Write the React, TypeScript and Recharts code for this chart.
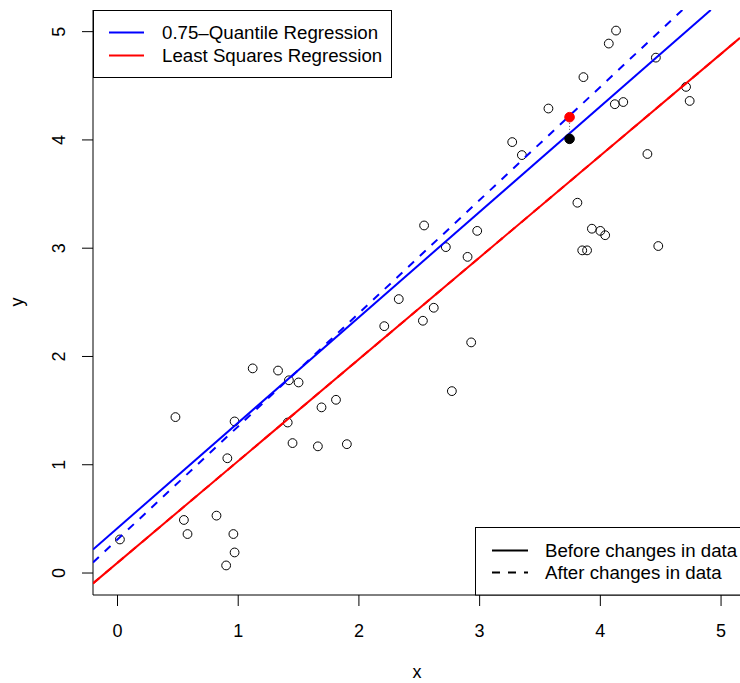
import { ScatterChart, Scatter, XAxis, YAxis } from "recharts";

// observed sample
const xs = [0.02, 0.48, 0.55, 0.58, 0.82, 0.9, 0.91, 0.96, 0.97, 0.97, 1.12, 1.33, 1.42, 1.41, 1.45, 1.5, 1.66, 1.69, 1.81, 1.9, 2.21, 2.33, 2.53, 2.54, 2.62, 2.72, 2.77, 2.9, 2.93, 2.98, 3.27, 3.35, 3.57, 3.81, 3.85, 3.86, 3.89, 3.93, 4.0, 4.04, 4.07, 4.12, 4.13, 4.19, 4.39, 4.46, 4.48, 4.71, 4.74];
const ys = [0.31, 1.44, 0.49, 0.36, 0.53, 0.07, 1.06, 0.36, 1.4, 0.19, 1.89, 1.87, 1.78, 1.39, 1.2, 1.76, 1.17, 1.53, 1.6, 1.19, 2.28, 2.53, 2.33, 3.21, 2.45, 3.01, 1.68, 2.92, 2.13, 3.16, 3.98, 3.86, 4.29, 3.42, 2.98, 4.58, 2.98, 3.18, 3.16, 3.12, 4.89, 4.33, 5.01, 4.35, 3.87, 4.76, 3.02, 4.49, 4.36];

// the one observation that was changed: original and modified value
const originalPoint = [3.745, 4.01];
const changedPoint = [3.745, 4.21];

// fitted lines: [intercept, slope]
const quantileBefore = [0.415, 0.9736];
const quantileAfter = [0.31, 1.045];
const lsBefore = [0.095, 0.94];
const lsAfter = [0.095, 0.94];

const xTicks = [0, 1, 2, 3, 4, 5];
const yTicks = [0, 1, 2, 3, 4, 5];

const XMIN = -0.203;
const XMAX = 5.157;
const YMIN = -0.203;
const YMAX = 5.2;

const FONT = '"Liberation Sans", Arial, Helvetica, sans-serif';
const LEGEND_SIZE = 18.7;

const points = xs.map((x, i) => ({ x, y: ys[i] }));

// endpoints of y = a + b x clipped to the plot window
function segment([a, b]: number[]) {
  let x0 = XMIN;
  let x1 = XMAX;
  if (a + b * x0 < YMIN) x0 = (YMIN - a) / b;
  if (a + b * x1 > YMAX) x1 = (YMAX - a) / b;
  return [
    { x: x0, y: a + b * x0 },
    { x: x1, y: a + b * x1 },
  ];
}

const noShape = () => <g />;

const OpenCircle = (p: any) => (
  <circle cx={p.cx} cy={p.cy} r={4.4} fill="none" stroke="#000" strokeWidth={1} />
);

const dot = (color: string) => (p: any) => (
  <circle cx={p.cx} cy={p.cy} r={4.8} fill={color} stroke={color} />
);

const XTick = (p: any) => (
  <text x={p.x} y={637} textAnchor="middle" fontSize={18} fontFamily={FONT} fill="#000">
    {p.payload.value}
  </text>
);

const YTick = (p: any) => (
  <text
    x={65}
    y={p.y}
    textAnchor="middle"
    fontSize={18}
    fontFamily={FONT}
    fill="#000"
    transform={`rotate(-90, 65, ${p.y})`}
  >
    {p.payload.value}
  </text>
);

export default function App() {
  return (
    <div style={{ position: "absolute", left: 0, top: 0, width: 740, height: 683, background: "#fff" }}>
      <ScatterChart width={740} height={683} margin={{ top: 10, right: 0, bottom: 0, left: 0 }}>
        <XAxis
          type="number"
          dataKey="x"
          domain={[XMIN, XMAX]}
          ticks={xTicks}
          allowDataOverflow
          height={88}
          tickSize={11}
          tick={<XTick />}
          stroke="#000"
          tickLine={{ stroke: "#000" }}
        />
        <XAxis
          xAxisId="top"
          orientation="top"
          type="number"
          dataKey="x"
          domain={[XMIN, XMAX]}
          height={0}
          tick={false}
          tickLine={false}
          stroke="#000"
        />
        <YAxis
          type="number"
          dataKey="y"
          domain={[YMIN, YMAX]}
          ticks={yTicks}
          allowDataOverflow
          width={93}
          tickSize={11}
          tick={<YTick />}
          stroke="#000"
          tickLine={{ stroke: "#000" }}
        />
        <Scatter data={points} shape={OpenCircle} isAnimationActive={false} />
        <Scatter
          data={segment(lsBefore)}
          shape={noShape}
          line={{ stroke: "#ff0000", strokeWidth: 2 }}
          isAnimationActive={false}
        />
        <Scatter
          data={segment(lsAfter)}
          shape={noShape}
          line={{ stroke: "#ff0000", strokeWidth: 2, strokeDasharray: "8 8" }}
          isAnimationActive={false}
        />
        <Scatter
          data={segment(quantileBefore)}
          shape={noShape}
          line={{ stroke: "#0000ff", strokeWidth: 2 }}
          isAnimationActive={false}
        />
        <Scatter
          data={segment(quantileAfter)}
          shape={noShape}
          line={{ stroke: "#0000ff", strokeWidth: 2, strokeDasharray: "8 8" }}
          isAnimationActive={false}
        />
        <Scatter
          data={[
            { x: originalPoint[0], y: originalPoint[1] },
            { x: changedPoint[0], y: changedPoint[1] },
          ]}
          shape={noShape}
          line={{ stroke: "#555", strokeWidth: 1, strokeDasharray: "1 2" }}
          isAnimationActive={false}
        />
        <Scatter data={[{ x: originalPoint[0], y: originalPoint[1] }]} shape={dot("#000")} isAnimationActive={false} />
        <Scatter data={[{ x: changedPoint[0], y: changedPoint[1] }]} shape={dot("#ff0000")} isAnimationActive={false} />
      </ScatterChart>

      <svg
        width={740}
        height={683}
        style={{ position: "absolute", left: 0, top: 0, pointerEvents: "none" }}
        fontFamily={FONT}
      >
        {/* axis titles */}
        <text x={417} y={678} textAnchor="middle" fontSize={18}>x</text>
        <text x={23} y={302} textAnchor="middle" fontSize={18} transform="rotate(-90, 23, 302)">y</text>

        {/* method legend */}
        <rect x={93.5} y={10.5} width={298} height={67} fill="#fff" stroke="#000" />
        <line x1={109} x2={144} y1={32.5} y2={32.5} stroke="#0000ff" strokeWidth={2} />
        <line x1={109} x2={144} y1={55.5} y2={55.5} stroke="#ff0000" strokeWidth={2} />
        <text x={162} y={39} fontSize={LEGEND_SIZE}>0.75–Quantile Regression</text>
        <text x={162} y={62} fontSize={LEGEND_SIZE}>Least Squares Regression</text>

        {/* line-type legend */}
        <rect x={475.5} y={527.5} width={280} height={67.5} fill="#fff" stroke="#000" />
        <line x1={492} x2={528} y1={550.5} y2={550.5} stroke="#000" strokeWidth={2} />
        <line x1={492} x2={528} y1={572.5} y2={572.5} stroke="#000" strokeWidth={2} strokeDasharray="8 8" />
        <text x={545} y={557} fontSize={LEGEND_SIZE}>Before changes in data</text>
        <text x={545} y={579} fontSize={LEGEND_SIZE}>After changes in data</text>
      </svg>
    </div>
  );
}
